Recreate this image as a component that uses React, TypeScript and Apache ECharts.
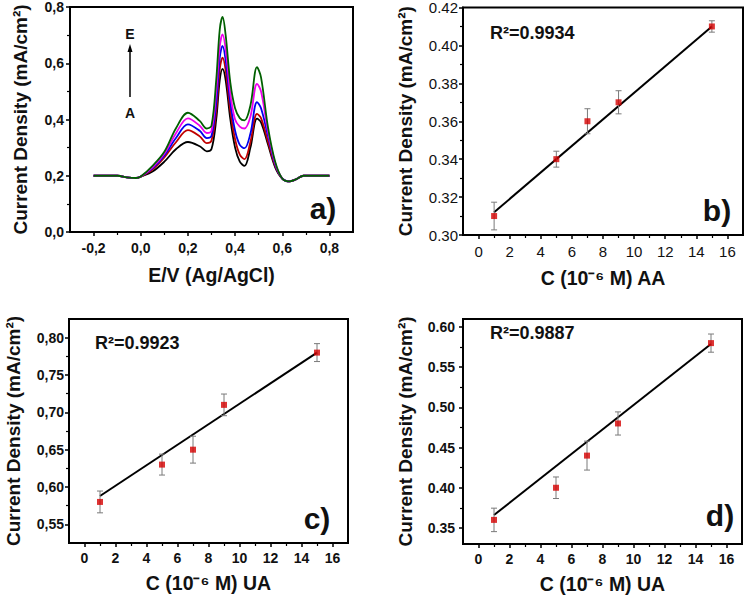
import React, { useEffect, useRef } from "react";
import * as echarts from "echarts";

const FONT = "'Liberation Sans', Arial, Helvetica, sans-serif";

// ---- Panel a: DPV curves ----
const potentialV = [-0.2, -0.1, -0.05, -0.02, 0, 0.05, 0.1, 0.15, 0.2, 0.25, 0.28, 0.3, 0.32, 0.335, 0.347, 0.36, 0.38, 0.4, 0.42, 0.44, 0.465, 0.493, 0.51, 0.54, 0.57, 0.6, 0.63, 0.66, 0.69, 0.75, 0.8];
const curveA = [0.2, 0.2, 0.193, 0.192, 0.197, 0.215, 0.25, 0.295, 0.32, 0.305, 0.287, 0.295, 0.40, 0.54, 0.58, 0.54, 0.40, 0.30, 0.25, 0.235, 0.30, 0.403, 0.39, 0.31, 0.23, 0.19, 0.18, 0.188, 0.2, 0.2, 0.2];
const curveB = [0.2, 0.2, 0.193, 0.192, 0.197, 0.222, 0.265, 0.32, 0.362, 0.34, 0.316, 0.325, 0.43, 0.58, 0.62, 0.575, 0.43, 0.33, 0.275, 0.259, 0.32, 0.42, 0.405, 0.32, 0.235, 0.19, 0.18, 0.188, 0.2, 0.2, 0.2];
const curveC = [0.2, 0.2, 0.193, 0.192, 0.197, 0.226, 0.272, 0.335, 0.383, 0.36, 0.334, 0.342, 0.46, 0.62, 0.662, 0.61, 0.46, 0.36, 0.31, 0.298, 0.35, 0.462, 0.44, 0.34, 0.24, 0.19, 0.18, 0.188, 0.2, 0.2, 0.2];
const curveD = [0.2, 0.2, 0.193, 0.192, 0.197, 0.23, 0.278, 0.352, 0.404, 0.378, 0.352, 0.36, 0.50, 0.66, 0.703, 0.65, 0.49, 0.40, 0.375, 0.368, 0.41, 0.527, 0.50, 0.355, 0.245, 0.19, 0.18, 0.188, 0.2, 0.2, 0.2];
const curveE = [0.2, 0.2, 0.193, 0.192, 0.197, 0.235, 0.285, 0.37, 0.424, 0.395, 0.368, 0.378, 0.54, 0.72, 0.765, 0.70, 0.53, 0.44, 0.405, 0.397, 0.45, 0.586, 0.55, 0.37, 0.25, 0.19, 0.18, 0.188, 0.2, 0.2, 0.2];
const curveColors = ["#000000", "#c00000", "#0000ee", "#ee00ee", "#006000"];

// ---- Calibration panels ----
const conc = [1, 5, 7, 9, 15];
const aaDensity = [0.31, 0.34, 0.36, 0.37, 0.41];
const aaError = [0.0073, 0.0042, 0.0066, 0.0061, 0.003];
const uaDensityC = [0.58, 0.63, 0.65, 0.71, 0.78];
const uaErrorC = [0.0146, 0.014, 0.018, 0.0145, 0.012];
const uaDensityD = [0.36, 0.40, 0.44, 0.48, 0.58];
const uaErrorD = [0.0146, 0.0134, 0.018, 0.0144, 0.0113];
const fitX = [1, 15];
const aaFitY = [0.312, 0.41];
const uaFitYC = [0.588, 0.78];
const uaFitYD = [0.366, 0.579];

// ---- Ticks ----
const aMajorX = [-0.2, 0, 0.2, 0.4, 0.6, 0.8];
const aMinorX = [-0.1, 0.1, 0.3, 0.5, 0.7];
const aMajorY = [0, 0.2, 0.4, 0.6, 0.8];
const aMinorY = [0.1, 0.3, 0.5, 0.7];
const concMajor = [0, 2, 4, 6, 8, 10, 12, 14, 16];
const concMinor = [1, 3, 5, 7, 9, 11, 13, 15];
const bMajorY = [0.3, 0.32, 0.34, 0.36, 0.38, 0.4, 0.42];
const bMinorY = [0.31, 0.33, 0.35, 0.37, 0.39, 0.41];
const cMajorY = [0.55, 0.6, 0.65, 0.7, 0.75, 0.8];
const cMinorY = [0.575, 0.625, 0.675, 0.725, 0.775];
const dMajorY = [0.35, 0.4, 0.45, 0.5, 0.55, 0.6];
const dMinorY = [0.375, 0.425, 0.475, 0.525, 0.575];

const yTitle = "Current Density (mA/cm²)";

function axisPair(dim: "x" | "y", grid: number, min: number, max: number, majors: number[], minors: number[], fmt: (v: number) => string, labelFont: any, labelMargin: number, name: string, nameGap: number) {
  const pos = dim === "x" ? "bottom" : "left";
  return [
    {
      type: "value", gridIndex: grid, min, max, position: pos,
      axisLine: { show: true, onZero: false, lineStyle: { color: "#000", width: 2 } },
      axisTick: { show: true, customValues: majors, length: 4, lineStyle: { color: "#000", width: 1.5 } },
      axisLabel: { customValues: majors, formatter: fmt, margin: labelMargin, color: "#111", fontFamily: FONT, ...labelFont },
      splitLine: { show: false },
      name, nameLocation: "middle", nameGap,
      nameTextStyle: { fontFamily: FONT, fontWeight: "bold", fontSize: dim === "x" ? 19.5 : 19, color: "#111" },
    },
    {
      type: "value", gridIndex: grid, min, max, position: pos,
      axisLine: { show: false, onZero: false },
      axisTick: { show: true, customValues: minors, length: 3, lineStyle: { color: "#000", width: 1.2 } },
      axisLabel: { show: false },
      splitLine: { show: false },
    },
  ];
}

const comma1 = (v: number) => v.toFixed(1).replace(".", ",");
const comma2 = (v: number) => v.toFixed(2).replace(".", ",");
const dot2 = (v: number) => v.toFixed(2);
const int0 = (v: number) => String(Math.round(v));

const boldLbl = { fontWeight: "bold", fontSize: 14 };
const plainLbl = { fontWeight: "normal", fontSize: 15 };

function errorBarSeries(idx: number, ys: number[], errs: number[]) {
  return {
    type: "custom",
    xAxisIndex: idx * 2, yAxisIndex: idx * 2,
    data: conc.map((x, i) => [x, ys[i], errs[i]]),
    encode: { x: 0, y: 1 },
    z: 3,
    renderItem: (params: any, api: any) => {
      const x = api.value(0), y = api.value(1), e = api.value(2);
      const t = api.coord([x, y + e]);
      const b = api.coord([x, y - e]);
      const hw = 3;
      const st = { stroke: "#7a7a7a", lineWidth: 1 };
      return {
        type: "group",
        children: [
          { type: "line", shape: { x1: t[0], y1: t[1], x2: b[0], y2: b[1] }, style: st },
          { type: "line", shape: { x1: t[0] - hw, y1: t[1], x2: t[0] + hw, y2: t[1] }, style: st },
          { type: "line", shape: { x1: b[0] - hw, y1: b[1], x2: b[0] + hw, y2: b[1] }, style: st },
        ],
      };
    },
  };
}

function calibSeries(idx: number, ys: number[], errs: number[], fitY: number[]) {
  return [
    {
      type: "line", xAxisIndex: idx * 2, yAxisIndex: idx * 2,
      data: fitX.map((x, i) => [x, fitY[i]]),
      showSymbol: false, symbol: "none",
      lineStyle: { color: "#000", width: 2 }, z: 2,
    },
    errorBarSeries(idx, ys, errs),
    {
      type: "scatter", xAxisIndex: idx * 2, yAxisIndex: idx * 2,
      data: conc.map((x, i) => [x, ys[i]]),
      symbol: "rect", symbolSize: 6,
      itemStyle: { color: "#d40000" }, z: 4,
    },
  ];
}

function txt(text: string, x: number, y: number, size: number, align = "center") {
  return {
    type: "text", x, y, z: 10,
    style: {
      text, fill: "#111", font: `bold ${size}px ${FONT}`,
      align, verticalAlign: "middle", textAlign: align, textVerticalAlign: "middle",
    },
  };
}

const gridBase = { show: true, borderColor: "#000", borderWidth: 2, backgroundColor: "transparent", containLabel: false };

const option: any = {
  animation: false,
  backgroundColor: "#fff",
  grid: [
    { ...gridBase, left: 70, top: 6, width: 283, height: 226 },
    { ...gridBase, left: 463, top: 7, width: 280, height: 228 },
    { ...gridBase, left: 69, top: 319, width: 279, height: 224 },
    { ...gridBase, left: 463, top: 319, width: 279, height: 225 },
  ],
  xAxis: [
    ...axisPair("x", 0, -0.3, 0.9, aMajorX, aMinorX, comma1, boldLbl, 9, "E/V (Ag/AgCl)", 33),
    ...axisPair("x", 1, -1, 17, concMajor, concMinor, int0, plainLbl, 9, "C (10⁻⁶ M) AA", 33),
    ...axisPair("x", 2, -1, 17, concMajor, concMinor, int0, boldLbl, 8, "C (10⁻⁶ M) UA", 30),
    ...axisPair("x", 3, -1, 17, concMajor, concMinor, int0, boldLbl, 8, "C (10⁻⁶ M) UA", 30),
  ],
  yAxis: [
    ...axisPair("y", 0, 0, 0.8, aMajorY, aMinorY, comma1, boldLbl, 6, yTitle, 40),
    ...axisPair("y", 1, 0.3, 0.42, bMajorY, bMinorY, dot2, plainLbl, 5, yTitle, 48),
    ...axisPair("y", 2, 0.525, 0.825, cMajorY, cMinorY, comma2, boldLbl, 5, yTitle, 46),
    ...axisPair("y", 3, 0.33, 0.61, dMajorY, dMinorY, dot2, boldLbl, 8, yTitle, 48),
  ],
  series: [
    ...[curveA, curveB, curveC, curveD, curveE].map((c, i) => ({
      type: "line", xAxisIndex: 0, yAxisIndex: 0,
      data: potentialV.map((x, j) => [x, c[j]]),
      showSymbol: false, symbol: "none", smooth: 0.35,
      lineStyle: { color: curveColors[i], width: 1.8 },
    })),
    ...calibSeries(1, aaDensity, aaError, aaFitY),
    ...calibSeries(2, uaDensityC, uaErrorC, uaFitYC),
    ...calibSeries(3, uaDensityD, uaErrorD, uaFitYD),
  ],
  graphic: [
    txt("a)", 323, 208, 30),
    txt("b)", 717, 210, 30),
    txt("c)", 317, 518, 30),
    txt("d)", 720, 515, 30),
    txt("R²=0.9934", 490, 33, 18, "left"),
    txt("R²=0.9923", 95, 343, 18, "left"),
    txt("R²=0.9887", 490, 333, 18, "left"),
    txt("E", 130, 34, 14),
    txt("A", 130, 113, 14),
    { type: "line", z: 10, shape: { x1: 130, y1: 97, x2: 130, y2: 51 }, style: { stroke: "#000", lineWidth: 1.5 } },
    { type: "polygon", z: 10, shape: { points: [[130, 44], [127.5, 52], [132.5, 52]] }, style: { fill: "#000" } },
  ],
};

export default function App() {
  const ref = useRef<HTMLDivElement>(null);
  useEffect(() => {
    if (!ref.current) return;
    const chart = echarts.init(ref.current, null, { renderer: "svg" });
    chart.setOption(option);
    return () => chart.dispose();
  }, []);
  return (
    <div
      ref={ref}
      style={{ position: "absolute", left: 0, top: 0, width: 747, height: 600, background: "#fff" }}
    />
  );
}
